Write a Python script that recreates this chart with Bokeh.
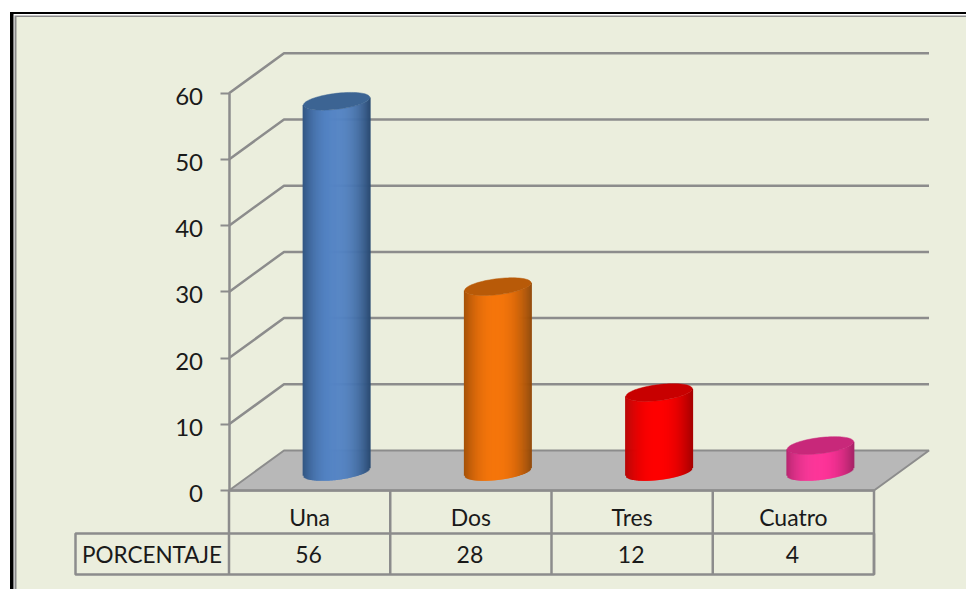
import numpy as np
from bokeh.plotting import figure
from bokeh.models import Range1d, FixedTicker, LinearAxis
from bokeh.core.properties import value
from bokeh.embed import file_html
from bokeh.resources import INLINE

categories = ["Una", "Dos", "Tres", "Cuatro"]
porcentaje = [56, 28, 12, 4]
y_ticks = [0, 10, 20, 30, 40, 50, 60]
row_label = "PORCENTAJE"

main_colors = ["#5585C6", "#F6760C", "#FF0000", "#FF3399"]
edge_colors = ["#2B4C74", "#944A08", "#A80000", "#A82468"]
top_colors = ["#3C6493", "#B85A08", "#C80000", "#C8287A"]

FONT = "Lato"
GRID = "#8C8C8C"
BG = "#EBEEDD"

# page-pixel calibration of the plot
W, H = 966, 589
X0, CAT_W = 228.5, 161.25
Y0, UNIT = 490.0, 6.62
DX, DY = 55.0 / CAT_W, 40.0 / UNIT      # 3D depth, in data units


def px(x):
    return (np.asarray(x, dtype=float) - X0) / CAT_W


def py(y):
    return (Y0 - np.asarray(y, dtype=float)) / UNIT


p = figure(width=W, height=H, output_backend="svg", toolbar_location=None,
           x_range=Range1d(float(px(0)), float(px(W))),
           y_range=Range1d(float(py(H)), float(py(0))),
           min_border=0, min_border_left=0, min_border_right=0,
           min_border_top=0, min_border_bottom=0)
p.outline_line_color = None
p.background_fill_color = "white"
p.border_fill_color = "white"
p.xgrid.visible = False
p.ygrid.visible = False

# a range shifted 3 px, so that the value labels sit slightly below their ticks
p.extra_y_ranges = {"labels": Range1d(float(py(H)) + 3 / UNIT, float(py(0)) + 3 / UNIT)}

# picture frame and background
p.quad(left=[float(px(9.5))], right=[float(px(W))], top=[float(py(11.5))], bottom=[float(py(H))],
       fill_color="black", line_color=None)
p.quad(left=[float(px(13))], right=[float(px(W))], top=[float(py(13.5))], bottom=[float(py(H))],
       fill_color="white", line_color=None)
p.quad(left=[float(px(14))], right=[float(px(W))], top=[float(py(15))], bottom=[float(py(H))],
       fill_color="#8A8A8A", line_color=None)
p.quad(left=[float(px(16))], right=[float(px(W))], top=[float(py(16.5))], bottom=[float(py(H))],
       fill_color=BG, line_color=None)

# floor
n = len(categories)
p.patch([0, n, n + DX, DX], [0, 0, DY, DY], fill_color="#B8B8B8", line_color=GRID, line_width=2)

# walls: gridlines with their side-wall diagonals
for t in y_ticks[1:]:
    p.line([0, DX, n + DX], [t, t + DY, t + DY], line_color=GRID, line_width=2.5)

# cylinders
a_px = 33.2
tilt_px, b_px = 3.8, 8.0
bar_shift_x = -0.5 / CAT_W
bar_shift_y = -1.5 / UNIT
ts = np.linspace(-1, 1, 68)


def rgb(h):
    return np.array([int(h[i:i + 2], 16) for i in (1, 3, 5)], dtype=float)


for i, v in enumerate(porcentaje):
    cx = i + 0.5 + DX / 2 + bar_shift_x
    base = DY / 2 + bar_shift_y
    top = v + DY / 2 + bar_shift_y
    x_s = cx + ts * a_px / CAT_W
    front = np.sqrt(np.clip(1 - ts ** 2, 0, 1)) * b_px / UNIT
    slope = ts * tilt_px / UNIT
    f = np.clip(np.abs(ts + 0.05) / 1.05, 0, 1) ** 2.2
    cols = [
        "#%02X%02X%02X" % tuple(int(c) for c in (rgb(main_colors[i]) * (1 - k) + rgb(edge_colors[i]) * k))
        for k in f
    ]
    p.segment(x0=x_s, x1=x_s, y0=base + slope - front, y1=top + slope - front,
              line_color=cols, line_width=1.6, line_cap="butt")
    tt = np.linspace(0, 2 * np.pi, 80)
    p.patch(cx + np.cos(tt) * a_px / CAT_W,
            top + np.cos(tt) * tilt_px / UNIT + np.sin(tt) * b_px / UNIT,
            fill_color=top_colors[i], line_color=top_colors[i], line_width=0.5)

# value axis: line and ticks
p.yaxis.fixed_location = 0
p.yaxis.bounds = (0, 60)
p.yaxis.ticker = FixedTicker(ticks=y_ticks)
p.yaxis.major_label_overrides = {t: "" for t in y_ticks}
p.yaxis.axis_line_color = GRID
p.yaxis.axis_line_width = 2.5
p.yaxis.major_tick_line_color = GRID
p.yaxis.major_tick_line_width = 2
p.yaxis.major_tick_out = 9
p.yaxis.major_tick_in = 0
p.yaxis.minor_tick_line_color = None

# value axis: labels
label_axis = LinearAxis(y_range_name="labels", fixed_location=0, bounds=(0, 60),
                        ticker=FixedTicker(ticks=y_ticks),
                        axis_line_color=None, major_tick_line_color=None, minor_tick_line_color=None,
                        major_tick_out=9, major_tick_in=0, major_label_standoff=17,
                        major_label_text_font=FONT, major_label_text_font_size="24px",
                        major_label_text_color="#1A1A1A")
p.add_layout(label_axis, "left")

# category axis
centers = [i + 0.5 for i in range(n)]
p.xaxis.fixed_location = 0
p.xaxis.bounds = (0, n)
p.xaxis.ticker = FixedTicker(ticks=centers)
p.xaxis.major_label_overrides = {c: s for c, s in zip(centers, categories)}
p.xaxis.axis_line_color = GRID
p.xaxis.axis_line_width = 2.5
p.xaxis.major_tick_line_color = None
p.xaxis.minor_tick_line_color = None
p.xaxis.major_tick_out = 0
p.xaxis.major_tick_in = 0
p.xaxis.major_label_standoff = 12
p.xaxis.major_label_text_font = FONT
p.xaxis.major_label_text_font_size = "23px"
p.xaxis.major_label_text_color = "#1A1A1A"

# data table
r1 = float(py(533))
r2 = float(py(574))
tx = float(px(75))
p.segment(x0=list(range(n + 1)), x1=list(range(n + 1)), y0=[0] * (n + 1), y1=[r2] * (n + 1),
          line_color=GRID, line_width=2.5)
p.line([tx, tx, n, n, tx, tx], [r1, r2, r2, r1, r1, r2], line_color=GRID, line_width=2.5)
mid = float(py(554))
text_shift = -1.0 / CAT_W
p.text(x=[c + text_shift for c in centers], y=[mid] * n, text=[str(v) for v in porcentaje],
       text_align="center", text_baseline="middle",
       text_font=value(FONT), text_font_size="23px", text_color="#1A1A1A")
p.text(x=[float(px(151.5))], y=[mid], text=[row_label], text_align="center", text_baseline="middle",
       text_font=value(FONT), text_font_size="22.5px", text_color="#1A1A1A")

open("out.html", "w").write(file_html(p, INLINE))
